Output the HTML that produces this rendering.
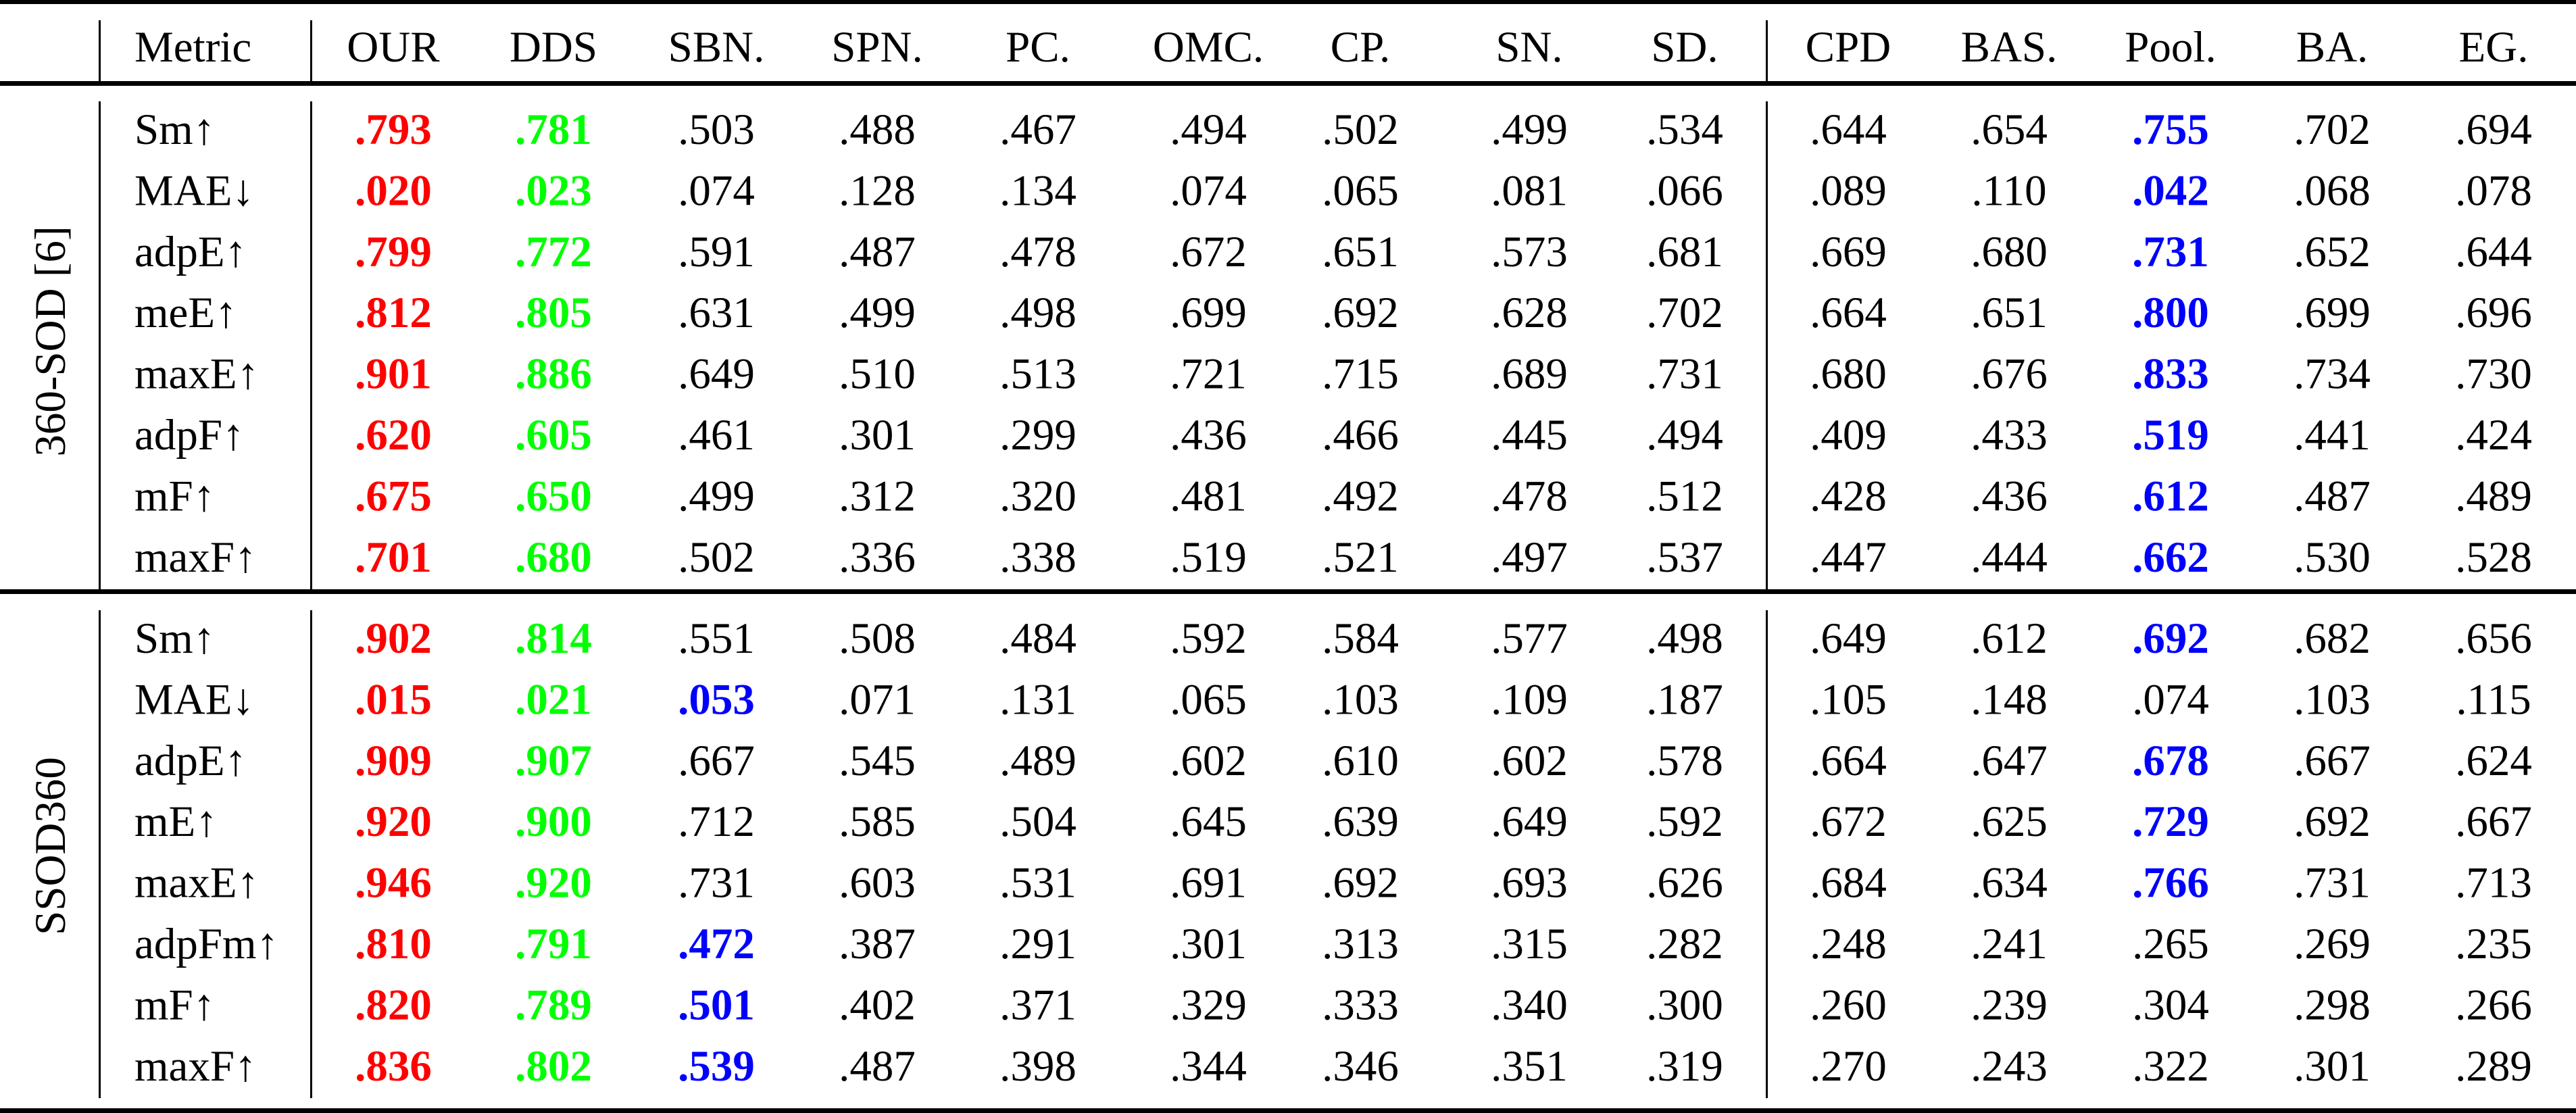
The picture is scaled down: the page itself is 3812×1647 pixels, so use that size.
<!DOCTYPE html>
<html><head><meta charset="utf-8"><style>
html,body{margin:0;padding:0;background:#fff;}
svg{display:block;}
text{font-family:"Liberation Serif","DejaVu Serif",serif;font-size:65px;fill:#000;}
.n{text-anchor:middle;}
.r{fill:#ff0000;font-weight:bold;}
.g{fill:#00ff00;font-weight:bold;}
.b{fill:#0000ff;font-weight:bold;}
</style></head><body>
<svg width="3812" height="1647" viewBox="0 0 3812 1647" xmlns="http://www.w3.org/2000/svg">
<rect x="0" y="0" width="3812" height="1647" fill="#fff"/>
<rect x="0" y="0" width="3812" height="6" fill="#000"/>
<rect x="0" y="120" width="3812" height="7" fill="#000"/>
<rect x="0" y="872" width="3812" height="7" fill="#000"/>
<rect x="0" y="1640" width="3812" height="7" fill="#000"/>
<g fill="#000">
<rect x="146" y="30" width="3" height="90"/><rect x="459" y="30" width="3" height="90"/><rect x="2613" y="30" width="3" height="90"/>
<rect x="146" y="150" width="3" height="722"/><rect x="459" y="150" width="3" height="722"/><rect x="2613" y="150" width="3" height="722"/>
<rect x="146" y="903" width="3" height="722"/><rect x="459" y="903" width="3" height="722"/><rect x="2613" y="903" width="3" height="722"/>
</g>
<text class="n" transform="translate(96,505) rotate(-90)">360-SOD [6]</text>
<text class="n" transform="translate(96,1252) rotate(-90)">SSOD360</text>
<g id="hdr">
<text x="199" y="91">Metric</text>
<text class="n" x="582" y="91">OUR</text>
<text class="n" x="819" y="91">DDS</text>
<text class="n" x="1060" y="91">SBN.</text>
<text class="n" x="1298" y="91">SPN.</text>
<text class="n" x="1536" y="91">PC.</text>
<text class="n" x="1788" y="91">OMC.</text>
<text class="n" x="2013" y="91">CP.</text>
<text class="n" x="2263" y="91">SN.</text>
<text class="n" x="2493" y="91">SD.</text>
<text class="n" x="2735" y="91">CPD</text>
<text class="n" x="2973" y="91">BAS.</text>
<text class="n" x="3212" y="91">Pool.</text>
<text class="n" x="3451" y="91">BA.</text>
<text class="n" x="3690" y="91">EG.</text>
</g>
<g id="body"></g>
</svg>
<script>
(function(){
var xs=[582,819,1060,1298,1536,1788,2013,2263,2493,2735,2973,3212,3451,3690];
var rows=[
["Sm↑",".793",".781",".503",".488",".467",".494",".502",".499",".534",".644",".654",".755b",".702",".694"],
["MAE↓",".020",".023",".074",".128",".134",".074",".065",".081",".066",".089",".110",".042b",".068",".078"],
["adpE↑",".799",".772",".591",".487",".478",".672",".651",".573",".681",".669",".680",".731b",".652",".644"],
["meE↑",".812",".805",".631",".499",".498",".699",".692",".628",".702",".664",".651",".800b",".699",".696"],
["maxE↑",".901",".886",".649",".510",".513",".721",".715",".689",".731",".680",".676",".833b",".734",".730"],
["adpF↑",".620",".605",".461",".301",".299",".436",".466",".445",".494",".409",".433",".519b",".441",".424"],
["mF↑",".675",".650",".499",".312",".320",".481",".492",".478",".512",".428",".436",".612b",".487",".489"],
["maxF↑",".701",".680",".502",".336",".338",".519",".521",".497",".537",".447",".444",".662b",".530",".528"],
["Sm↑",".902",".814",".551",".508",".484",".592",".584",".577",".498",".649",".612",".692b",".682",".656"],
["MAE↓",".015",".021",".053b",".071",".131",".065",".103",".109",".187",".105",".148",".074",".103",".115"],
["adpE↑",".909",".907",".667",".545",".489",".602",".610",".602",".578",".664",".647",".678b",".667",".624"],
["mE↑",".920",".900",".712",".585",".504",".645",".639",".649",".592",".672",".625",".729b",".692",".667"],
["maxE↑",".946",".920",".731",".603",".531",".691",".692",".693",".626",".684",".634",".766b",".731",".713"],
["adpFm↑",".810",".791",".472b",".387",".291",".301",".313",".315",".282",".248",".241",".265",".269",".235"],
["mF↑",".820",".789",".501b",".402",".371",".329",".333",".340",".300",".260",".239",".304",".298",".266"],
["maxF↑",".836",".802",".539b",".487",".398",".344",".346",".351",".319",".270",".243",".322",".301",".289"]];
var ns="http://www.w3.org/2000/svg",g=document.getElementById("body");
function t(x,y,s,c){var e=document.createElementNS(ns,"text");e.setAttribute("x",x);e.setAttribute("y",y);if(c)e.setAttribute("class",c);e.textContent=s;g.appendChild(e);}
rows.forEach(function(r,i){
 var y=(i<8?213:966)+90.4*(i%8);
 t(199,y,r[0]);
 for(var j=1;j<r.length;j++){
  var v=r[j],c="n";
  if(j==1)c+=" r";else if(j==2)c+=" g";
  if(v.slice(-1)=="b"){v=v.slice(0,-1);c+=" b";}
  t(xs[j-1],y,v,c);
 }
});
})();
</script>
</body></html>
